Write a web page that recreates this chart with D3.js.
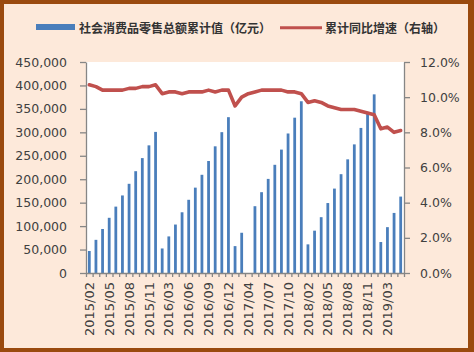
<!DOCTYPE html>
<html><head><meta charset="utf-8">
<script src="https://cdn.jsdelivr.net/npm/d3@7"></script>
<style>
html,body{margin:0;padding:0;background:#fff;}
svg{display:block;}
</style></head>
<body>
<svg id="chart" width="474" height="352"></svg>
<script>
const categories = [
 "2015/02","2015/03","2015/04","2015/05","2015/06","2015/07","2015/08","2015/09","2015/10","2015/11","2015/12",
 "2016/02","2016/03","2016/04","2016/05","2016/06","2016/07","2016/08","2016/09","2016/10","2016/11","2016/12",
 "2017/02","2017/03","2017/04","2017/05","2017/06","2017/07","2017/08","2017/09","2017/10","2017/11","2017/12",
 "2018/02","2018/03","2018/04","2018/05","2018/06","2018/07","2018/08","2018/09","2018/10","2018/11","2018/12",
 "2019/02","2019/03","2019/04","2019/05"
];
const retailCumulative = [
 46932,70715,93829,117730,141577,165399,190224,217112,245042,272230,300931,
 52318,78024,103364,129514,156138,182043,209447,238849,270168,300362,332316,
 57345,85823,null,142464,172369,200681,230758,263178,297542,331245,366262,
 61082,90275,119046,149189,180018,210752,242395,274299,309395,343548,380987,
 66064,97790,128115,162956
];
const growthRate = [
 10.7,10.6,10.4,10.4,10.4,10.4,10.5,10.5,10.6,10.6,10.7,
 10.2,10.3,10.3,10.2,10.3,10.3,10.3,10.4,10.3,10.4,10.4,
 9.5,10.0,10.2,10.3,10.4,10.4,10.4,10.4,10.3,10.3,10.2,
 9.7,9.8,9.7,9.5,9.4,9.3,9.3,9.3,9.2,9.1,9.0,
 8.2,8.3,8.0,8.1
];
const leftTicks = [0,50000,100000,150000,200000,250000,300000,350000,400000,450000];
const rightTicks = [0,2,4,6,8,10,12];
const xLabelEvery = 3;
const legendNames = ["社会消费品零售总额累计值（亿元）","累计同比增速（右轴）"];

const svg = d3.select("#chart");
const W = 474, H = 352;
const plot = {left:86, right:404, top:62, bottom:273};
const textColor = "#404040";
const axisColor = "#868686";
const font = "DejaVu Sans, Verdana, sans-serif";

// frame
svg.append("rect").attr("x",0).attr("y",0).attr("width",W).attr("height",H).attr("fill","#9a4a0e");
svg.append("rect").attr("x",4).attr("y",4).attr("width",464).attr("height",344).attr("fill","#fde9da");
// plot area
svg.append("rect").attr("x",plot.left).attr("y",plot.top)
  .attr("width",plot.right-plot.left).attr("height",plot.bottom-plot.top).attr("fill","#ffffff");

const x = d3.scaleBand().domain(categories).range([plot.left, plot.right])
  .paddingInner(0.58).paddingOuter(0.29);
const y = d3.scaleLinear().domain([0,450000]).range([plot.bottom, plot.top]);
const y2 = d3.scaleLinear().domain([0,12]).range([plot.bottom, plot.top]);
const xi = d3.scaleLinear().domain([0, categories.length]).range([plot.left, plot.right]);

// bars
svg.append("g").selectAll("rect")
  .data(categories.map((c,i)=>({c, v:retailCumulative[i]})).filter(d=>d.v!=null))
  .join("rect")
  .attr("x", d=>x(d.c)).attr("width", x.bandwidth())
  .attr("y", d=>y(d.v)).attr("height", d=>y(0)-y(d.v))
  .attr("fill","#4a7ebb");

// line
const line = d3.line()
  .x((d,i)=>x(categories[i]) + x.bandwidth()/2)
  .y(d=>y2(d))
  .curve(d3.curveLinear);
svg.append("path").datum(growthRate)
  .attr("d", line).attr("fill","none")
  .attr("stroke","#c0504d").attr("stroke-width",3.6)
  .attr("stroke-linejoin","round").attr("stroke-linecap","round");

function styleAxis(g){
  g.select(".domain").attr("stroke",axisColor).attr("stroke-width",1.3);
  g.selectAll(".tick line").attr("stroke",axisColor).attr("stroke-width",1.3);
  g.selectAll("text").attr("fill",textColor).attr("font-family",font).attr("font-size","12.5px");
}

// left axis
const gl = svg.append("g").attr("transform",`translate(${plot.left},0)`)
  .call(d3.axisLeft(y).tickValues(leftTicks).tickSize(6).tickPadding(13)
    .tickFormat(d3.format(",")).tickSizeOuter(0));
styleAxis(gl);

// right axis
const gr = svg.append("g").attr("transform",`translate(${plot.right},0)`)
  .call(d3.axisRight(y2).tickValues(rightTicks).tickSize(6).tickPadding(10)
    .tickFormat(d=>d.toFixed(1)+"%").tickSizeOuter(0));
styleAxis(gr);

// x axis boundary ticks
const gx = svg.append("g").attr("transform",`translate(0,${plot.bottom})`)
  .call(d3.axisBottom(xi).tickValues(d3.range(0,categories.length+1)).tickSize(4)
    .tickFormat("").tickSizeOuter(0));
styleAxis(gx);

// x labels
const gxl = svg.append("g").attr("transform",`translate(0,${plot.bottom})`)
  .call(d3.axisBottom(x).tickValues(categories.filter((c,i)=>i%xLabelEvery===0)).tickSize(0).tickPadding(0));
gxl.select(".domain").remove();
gxl.selectAll("text")
  .attr("fill",textColor).attr("font-family",font).attr("font-size","13px")
  .attr("transform","rotate(-90)")
  .attr("text-anchor","end")
  .attr("dy","0.35em")
  .attr("x",-9).attr("y",0);

// legend
const lg = svg.append("g");
lg.append("rect").attr("x",36).attr("y",24).attr("width",39).attr("height",6).attr("fill","#4a7ebb");
lg.append("text").attr("x",79).attr("y",27.5).attr("dominant-baseline","central")
  .attr("font-family","Noto Sans CJK SC").attr("font-weight","bold").attr("font-size","12px")
  .attr("fill","#333").text(legendNames[0]);
lg.append("line").attr("x1",280).attr("x2",322).attr("y1",27.7).attr("y2",27.7)
  .attr("stroke","#c0504d").attr("stroke-width",3);
lg.append("text").attr("x",325).attr("y",27.5).attr("dominant-baseline","central")
  .attr("font-family","Noto Sans CJK SC").attr("font-weight","bold").attr("font-size","12px")
  .attr("fill","#333").text(legendNames[1]);
</script>
</body></html>
